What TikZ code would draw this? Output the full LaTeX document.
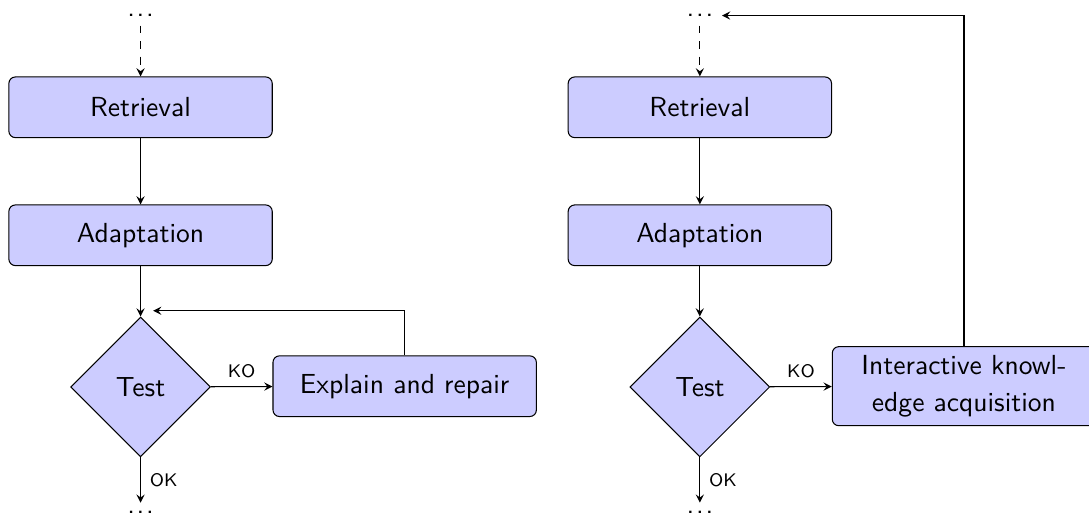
\documentclass[tikz,border=0pt]{standalone}
\usepackage{amsmath}
\usepackage{tikz}
\usetikzlibrary{arrows}
\usetikzlibrary{shapes.geometric}

\newcommand{\more}{.\kern0.7pt.\kern0.7pt.}

\begin{document}
\begin{tikzpicture}[font=\sffamily\fontsize{10.6}{14.2}\selectfont,>=stealth,
		box/.style={rectangle,rounded corners=2.5pt,draw=black,fill=blue!20,minimum width=3.56cm,minimum height=0.82cm,align=center},
		test/.style={diamond,aspect=1,draw=black,fill=blue!20,minimum width=1.89cm,minimum height=1.89cm,inner sep=0pt},
		dotsnode/.style={inner sep=1pt,outer sep=2.4pt},
		lbl/.style={font=\sffamily\scriptsize}]
			\useasboundingbox (0,0) rectangle (14.72,-7.0);
			
			% both loops
			
			\foreach \c/\x in {L/1.9,R/9.46} {
				\node[dotsnode] (top\c) at (\x,-0.21) {\more};
				\node[box] (ret\c) at (\x,-1.45) {Retrieval};
				\node[box] (ada\c) at (\x,-3.18) {Adaptation};
				\node[test] (test\c) at (\x,-5.23) {Test};
				\node[dotsnode] (bot\c) at (\x,-6.93) {\more};
				\draw[->,dashed] (top\c) -- (ret\c);
				\draw[->] (ret\c) -- (ada\c);
				\draw[->] (ada\c) -- (test\c);
				\draw[->] (test\c) -- node[right,lbl] {OK} (bot\c);
			}
			
			% explain and repair
			
			\node[box] (fix) at (5.47,-5.22) {Explain and repair};
			\coordinate (backL) at (2.07,-4.2);
			\draw[->] (testL) -- node[above,lbl] {KO} (fix);
			\draw[->] (fix) |- (backL);
			
			% interactive acquisition
			
			\node[box] (acq) at (13.03,-5.22) {Interactive knowl-\\edge acquisition};
			\draw[->] (testR) -- node[above,lbl] {KO} (acq);
			\draw[->] (acq) |- (topR);
			
		\end{tikzpicture}
\end{document}
